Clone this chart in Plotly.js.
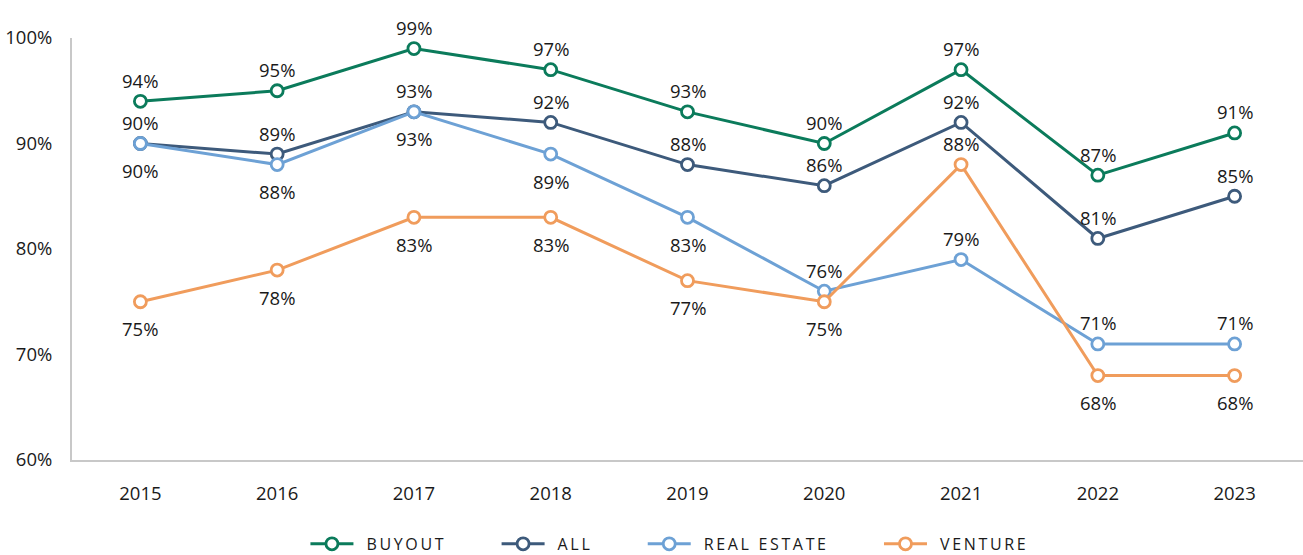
<!DOCTYPE html>
<html><head><meta charset="utf-8">
<script src="https://cdn.plot.ly/plotly-3.0.1.min.js"></script>
<style>html,body{margin:0;padding:0;background:#fff}#chart{width:1303px;height:555px}</style>
</head><body><div id="chart"></div>
<script>
const years = ['2015','2016','2017','2018','2019','2020','2021','2022','2023'];
const buyout = [94,95,99,97,93,90,97,87,91];
const all = [90,89,93,92,88,86,92,81,85];
const realEstate = [90,88,93,89,83,76,79,71,71];
const venture = [75,78,83,83,77,75,88,68,68];
const seriesNames = ['BUYOUT','ALL','REAL ESTATE','VENTURE'];
const tickVals = [60,70,80,90,100];
const tickText = ['60%','70%','80%','90%','100%'];
// label placement: 1 = above, -1 = below
const buyoutPos = [1,1,1,1,1,1,1,1,1];
const allPos = [1,1,1,1,1,1,1,1,1];
const rePos = [-1,-1,-1,-1,-1,1,1,1,1];
const vPos = [-1,-1,-1,-1,-1,-1,1,-1,-1];

function spaced(s){ return s.split('').join('\u2009'); }
function legendName(s, last){ return '\u2002' + spaced(s) + (last ? '' : '\u2003\u2003\u2003'); }
function tr(name, y, color, last){
  return {x: years, y: y, name: legendName(name, last), type:'scatter', mode:'lines+markers',
    line:{color:color, width:3},
    marker:{symbol:'circle', size:12, color:'#ffffff', line:{color:color, width:2.8}},
    cliponaxis:false};
}
const data = [
  tr(seriesNames[0], buyout, '#0b7b5b'),
  tr(seriesNames[1], all, '#3d5a7b'),
  tr(seriesNames[2], realEstate, '#6da1d5'),
  tr(seriesNames[3], venture, '#f09c5c', true)
];
const annotations = [];
const groups = [[buyout,buyoutPos],[all,allPos],[realEstate,rePos],[venture,vPos]];
for (const g of groups) {
  const vals = g[0], pos = g[1];
  for (let i = 0; i < vals.length; i++) {
    annotations.push({x: i, y: vals[i], xref:'x', yref:'y', text: vals[i] + '%', showarrow:false,
      xanchor:'center', yanchor:'middle',
      yshift: pos[i] > 0 ? 21 : -27, font:{family:'Open Sans, sans-serif', size:18.5, color:'#1a1a1a'}});
  }
}
const layout = {
  width:1303, height:555,
  margin:{l:72, r:0, t:38, b:95},
  paper_bgcolor:'#fff', plot_bgcolor:'#fff',
  font:{family:'Open Sans, sans-serif', size:18.5, color:'#1a1a1a'},
  showlegend:true,
  annotations: annotations,
  legend:{orientation:'h', x:0.513, xref:'container', xanchor:'center', y:0.02, yref:'container', yanchor:'middle',
    font:{size:16, color:'#1a1a1a'}, itemwidth:43, traceorder:'normal'},
  xaxis:{type:'category', showgrid:false, zeroline:false, showline:true,
    linecolor:'#c8c8c8', linewidth:2, ticks:'', range:[-0.5,8.5], ticklabelstandoff:16},
  yaxis:{range:[60,100], tickvals:tickVals, ticktext:tickText, showgrid:false,
    zeroline:false, showline:true, linecolor:'#c8c8c8', linewidth:2, ticks:'', ticklabelstandoff:14}
};
Plotly.newPlot('chart', data, layout, {displayModeBar:false, staticPlot:true});
</script></body></html>
